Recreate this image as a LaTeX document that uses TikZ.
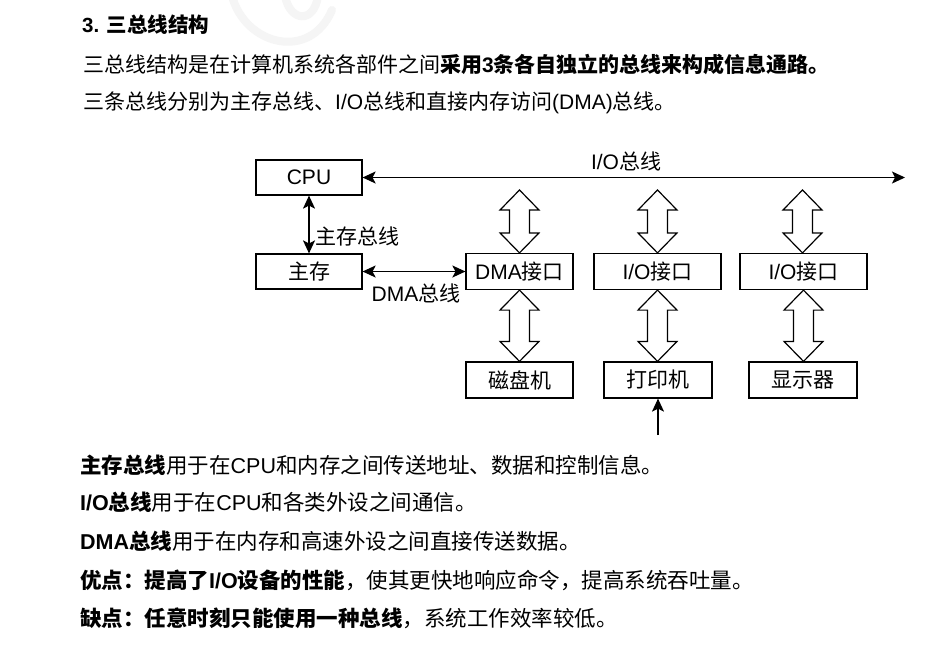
\documentclass[tikz,border=0pt]{standalone}
\usepackage{fontspec}
\setmainfont{Noto Sans CJK SC}
\newfontfamily\lat{Liberation Sans}
\usetikzlibrary{arrows.meta,calc}
\tikzset{
  box/.style={draw, line width=1.2pt, inner sep=0pt, font=\fontsize{21}{25}\selectfont},
  bus/.style={line width=1.2pt, {Stealth[length=13pt,width=12pt,inset=3pt]}-{Stealth[length=13pt,width=12pt,inset=3pt]}},
  onearrow/.style={line width=1.2pt, -{Stealth[length=13pt,width=12pt,inset=3pt]}},
  lbl/.style={inner sep=0pt, font=\fontsize{21}{25}\selectfont},
  body/.style={inner sep=0pt, anchor=west, font=\fontsize{21}{25}\selectfont},
  bodyb/.style={inner sep=0pt, anchor=west, font=\fontsize{21.5}{25}\selectfont},
  hollow/.style={draw, line width=1.2pt, fill=white, line join=miter},
  wm/.style={line width=8pt, black!4, line cap=round}
}
\newcommand\hollowarrow[2]{%
  \draw[hollow] let \p1=(#1), \p2=(#2) in
    (\p1) -- (\x1+19.5pt,\y1-20pt) -- (\x1+10pt,\y1-20pt) -- (\x1+10pt,\y2+20pt)
    -- (\x1+19.5pt,\y2+20pt) -- (\x1,\y2) -- (\x1-19.5pt,\y2+20pt) -- (\x1-10pt,\y2+20pt)
    -- (\x1-10pt,\y1-20pt) -- (\x1-19.5pt,\y1-20pt) -- cycle;}
\begin{document}
\begin{tikzpicture}[x=1pt,y=-1pt]
\useasboundingbox[fill=white] (0,0) rectangle (948,657);
% faint watermark
\draw[wm] (232,-4) .. controls (245,45) and (310,62) .. (332,10);
\draw[wm] (285,-4) .. controls (290,22) and (314,24) .. (318,-4);

% text above
\node[body, font=\fontsize{20.5}{24}\selectfont\bfseries] (title) at (82,25) {{\lat 3. }三总线结构};
\node[body] (l1) at (83,64) {三总线结构是在计算机系统各部件之间\textbf{采用{\lat 3}条各自独立的总线来构成信息通路。}};
\node[body] (l2) at (83,103) {三条总线分别为主存总线、{\lat I/O}总线和直接内存访问{\lat (DMA)}总线。};

% boxes
\node[box, minimum width=106pt, minimum height=35pt] (cpu) at (309,177.5) {\lat CPU};
\node[box, minimum width=106pt, minimum height=35pt] (mem) at (309,271.5) {主存};
\node[box, minimum width=107pt, minimum height=36pt] (dma) at (519.5,271.5) {{\lat DMA}接口};
\node[box, minimum width=127pt, minimum height=36pt] (io1) at (657.5,271.5) {{\lat I/O}接口};
\node[box, minimum width=127pt, minimum height=36pt] (io2) at (803.5,271.5) {{\lat I/O}接口};
\node[box, minimum width=107pt, minimum height=36pt] (disk) at (519.5,380) {磁盘机};
\node[box, minimum width=108pt, minimum height=36pt] (prn) at (658,380) {打印机};
\node[box, minimum width=108pt, minimum height=36pt] (disp) at (803,380) {显示器};

% I/O bus
\coordinate (busend) at (905,177.5);
\draw[bus] (cpu.east) -- (busend);
\node[lbl] (iolbl) at (626,161) {{\lat I/O}总线};

% memory bus
\draw[bus] (cpu.south) -- (mem.north);
\node[lbl, anchor=west] (memlbl) at (315,236) {主存总线};

% DMA bus
\draw[bus] (mem.east) -- (dma.west);
\node[lbl] (dmalbl) at (416,293) {{\lat DMA}总线};

% hollow arrows
\coordinate (t1) at (519.5,190);
\coordinate (t2) at (657.5,190);
\coordinate (t3) at (802.5,190);
\hollowarrow{t1}{dma.north}
\hollowarrow{t2}{io1.north}
\hollowarrow{t3}{io2.north}
\path let \p1=(dma.south), \p2=(disk.north) in coordinate (b1b) at (\x1,\y2);
\hollowarrow{dma.south}{b1b}
\path let \p1=(io1.south), \p2=(prn.north) in coordinate (b2b) at (\x1,\y2);
\hollowarrow{io1.south}{b2b}
\path let \p1=(io2.south), \p2=(disp.north) in coordinate (b3b) at (\x1,\y2);
\hollowarrow{io2.south}{b3b}

% printer input
\coordinate (pin) at (658,435);
\draw[onearrow] (pin) -- (prn.south);

% bottom text
\node[bodyb] (b1) at (80,465) {\textbf{主存总线}用于在{\lat CPU}和内存之间传送地址、数据和控制信息。};
\node[bodyb] (b2) at (80,502) {\textbf{{\lat I/O}总线}用于在{\lat CPU}和各类外设之间通信。};
\node[bodyb] (b3) at (80,541) {\textbf{{\lat DMA}总线}用于在内存和高速外设之间直接传送数据。};
\node[bodyb] (b4) at (80,580) {\textbf{优点：提高了{\lat I/O}设备的性能}，使其更快地响应命令，提高系统吞吐量。};
\node[bodyb] (b5) at (80,618) {\textbf{缺点：任意时刻只能使用一种总线}，系统工作效率较低。};
\end{tikzpicture}
\end{document}
